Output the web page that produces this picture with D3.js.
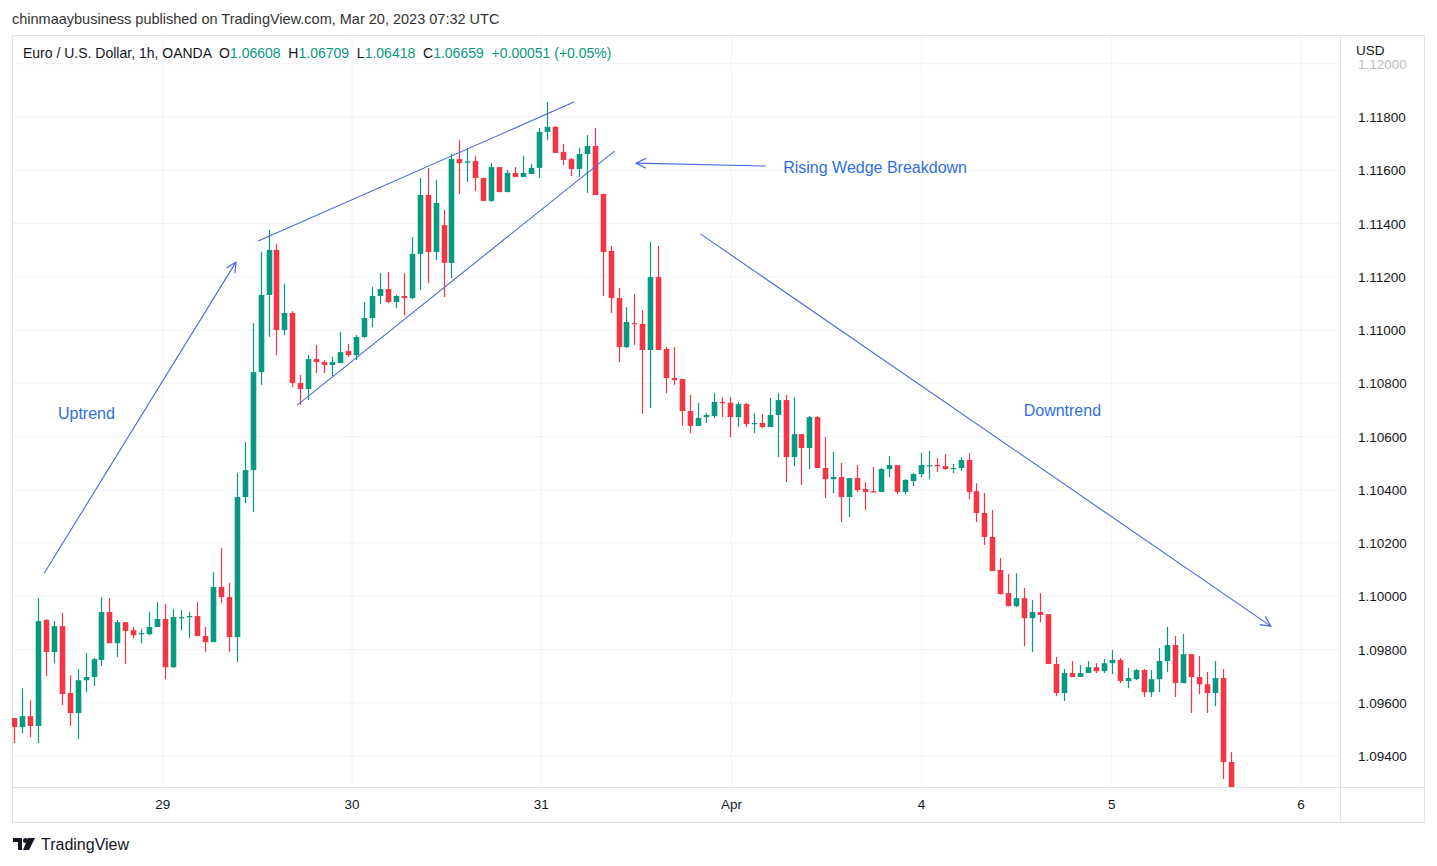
<!DOCTYPE html>
<html>
<head>
<meta charset="utf-8">
<script src="https://cdn.jsdelivr.net/npm/d3@7"></script>
<style>
  body { margin: 0; background: #fff; font-family: "Liberation Sans", Arial, sans-serif; }
  svg { display: block; }
  text { white-space: pre; }
</style>
</head>
<body>
<svg id="chart" width="1437" height="866"></svg>
<script>
// hourly candles, EURUSD [open, high, low, close]
const opens = [1.09543,1.09509,1.09550,1.09513,1.09911,1.09791,1.09888,1.09637,1.09562,1.09685,1.09697,1.09761,1.09941,1.09824,1.09903,1.09873,1.09858,1.09858,1.09885,1.09915,
  1.09734,1.09918,1.09922,1.09926,1.09851,1.09828,1.10035,1.09997,1.09847,1.10373,1.10474,1.10842,1.11132,1.11301,1.11000,1.11064,1.10801,1.10779,1.10891,1.10880,
  1.10869,1.10876,1.10921,1.10906,1.10974,1.11045,1.11128,1.11154,1.11105,1.11128,1.11120,1.11286,1.11507,1.11293,1.11394,1.11252,1.11642,1.11631,1.11635,1.11571,
  1.11485,1.11612,1.11518,1.11590,1.11575,1.11586,1.11609,1.11744,1.11763,1.11669,1.11642,1.11605,1.11661,1.11691,1.11511,1.11297,1.11120,1.10936,1.11026,1.11023,
  1.10925,1.11199,1.10929,1.10820,1.10816,1.10696,1.10640,1.10673,1.10677,1.10730,1.10727,1.10673,1.10722,1.10647,1.10651,1.10636,1.10681,1.10737,1.10523,1.10609,
  1.10557,1.10673,1.10482,1.10440,1.10448,1.10373,1.10444,1.10403,1.10395,1.10392,1.10478,1.10493,1.10392,1.10433,1.10459,1.10489,1.10493,1.10489,1.10478,1.10482,
  1.10512,1.10395,1.10313,1.10223,1.10099,1.10012,1.09963,1.09993,1.09918,1.09941,1.09933,1.09746,1.09637,1.09712,1.09697,1.09712,1.09734,1.09719,1.09749,1.09761,
  1.09682,1.09689,1.09723,1.09640,1.09689,1.09757,1.09817,1.09674,1.09783,1.09697,1.09670,1.09637,1.09693,1.09378];
const highs = [1.09543,1.09655,1.09610,1.09993,1.09915,1.09907,1.09937,1.09704,1.09727,1.09787,1.09768,1.09997,1.09993,1.09911,1.09903,1.09885,1.09877,1.09941,1.09978,1.09971,
  1.09952,1.09948,1.09941,1.09978,1.09885,1.10091,1.10181,1.10050,1.10463,1.10579,1.11026,1.11293,1.11376,1.11323,1.11173,1.11071,1.10831,1.10906,1.10944,1.10887,
  1.10899,1.10993,1.10948,1.10981,1.11105,1.11162,1.11214,1.11218,1.11132,1.11214,1.11349,1.11571,1.11609,1.11564,1.11451,1.11661,1.11714,1.11684,1.11654,1.11571,
  1.11627,1.11612,1.11601,1.11612,1.11654,1.11624,1.11759,1.11856,1.11766,1.11699,1.11646,1.11684,1.11732,1.11759,1.11511,1.11316,1.11158,1.11086,1.11135,1.11075,
  1.11331,1.11316,1.10936,1.10936,1.10816,1.10756,1.10726,1.10688,1.10763,1.10748,1.10748,1.10730,1.10726,1.10688,1.10685,1.10745,1.10763,1.10756,1.10748,1.10609,
  1.10677,1.10677,1.10598,1.10542,1.10501,1.10444,1.10493,1.10429,1.10486,1.10482,1.10527,1.10493,1.10440,1.10463,1.10538,1.10546,1.10519,1.10534,1.10497,1.10523,
  1.10538,1.10425,1.10388,1.10324,1.10144,1.10084,1.10087,1.10031,1.09986,1.10012,1.09933,1.09772,1.09727,1.09757,1.09742,1.09757,1.09749,1.09764,1.09798,1.09768,
  1.09731,1.09727,1.09727,1.09723,1.09806,1.09885,1.09851,1.09858,1.09783,1.09776,1.09716,1.09757,1.09727,1.09415];
const lows = [1.09449,1.09486,1.09471,1.09449,1.09700,1.09749,1.09592,1.09513,1.09464,1.09640,1.09663,1.09738,1.09824,1.09772,1.09746,1.09843,1.09824,1.09854,1.09885,1.09689,
  1.09731,1.09873,1.09843,1.09851,1.09791,1.09828,1.09975,1.09791,1.09753,1.10350,1.10317,1.10794,1.10974,1.10906,1.10981,1.10786,1.10718,1.10737,1.10839,1.10839,
  1.10827,1.10876,1.10899,1.10887,1.10970,1.11011,1.11098,1.11101,1.11083,1.11056,1.11117,1.11150,1.11177,1.11263,1.11124,1.11195,1.11511,1.11556,1.11522,1.11485,
  1.11481,1.11518,1.11518,1.11575,1.11575,1.11586,1.11571,1.11714,1.11665,1.11620,1.11578,1.11575,1.11515,1.11507,1.11128,1.11064,1.10880,1.10932,1.10944,1.10685,
  1.10707,1.10925,1.10763,1.10794,1.10640,1.10613,1.10640,1.10651,1.10670,1.10673,1.10598,1.10636,1.10636,1.10613,1.10632,1.10636,1.10523,1.10429,1.10489,1.10418,
  1.10478,1.10482,1.10369,1.10388,1.10279,1.10298,1.10392,1.10324,1.10390,1.10392,1.10448,1.10384,1.10384,1.10414,1.10448,1.10440,1.10467,1.10474,1.10463,1.10471,
  1.10365,1.10279,1.10193,1.10095,1.10008,1.09963,1.09960,1.09813,1.09791,1.09903,1.09746,1.09625,1.09607,1.09697,1.09697,1.09712,1.09712,1.09712,1.09708,1.09674,
  1.09655,1.09685,1.09622,1.09622,1.09640,1.09716,1.09622,1.09674,1.09562,1.09633,1.09562,1.09588,1.09314,1.09284];
const closes = [1.09509,1.09550,1.09513,1.09907,1.09791,1.09888,1.09633,1.09562,1.09685,1.09697,1.09764,1.09941,1.09824,1.09903,1.09870,1.09854,1.09862,1.09885,1.09915,1.09734,
  1.09922,1.09922,1.09926,1.09851,1.09828,1.10035,1.09997,1.09847,1.10373,1.10474,1.10842,1.11132,1.11301,1.11000,1.11064,1.10801,1.10779,1.10891,1.10880,1.10869,
  1.10880,1.10917,1.10906,1.10974,1.11045,1.11128,1.11154,1.11105,1.11128,1.11120,1.11286,1.11507,1.11293,1.11477,1.11252,1.11642,1.11627,1.11633,1.11571,1.11485,
  1.11612,1.11518,1.11590,1.11575,1.11590,1.11609,1.11744,1.11763,1.11665,1.11639,1.11605,1.11661,1.11691,1.11507,1.11293,1.11120,1.10936,1.11030,1.11023,1.10925,
  1.11199,1.10925,1.10820,1.10812,1.10696,1.10640,1.10670,1.10681,1.10730,1.10727,1.10673,1.10722,1.10647,1.10651,1.10636,1.10681,1.10737,1.10523,1.10609,1.10557,
  1.10673,1.10482,1.10440,1.10448,1.10373,1.10444,1.10399,1.10392,1.10390,1.10478,1.10493,1.10392,1.10437,1.10459,1.10493,1.10493,1.10489,1.10478,1.10482,1.10512,
  1.10392,1.10313,1.10223,1.10095,1.10008,1.09963,1.09993,1.09918,1.09941,1.09930,1.09746,1.09637,1.09712,1.09697,1.09712,1.09734,1.09719,1.09749,1.09761,1.09682,
  1.09693,1.09723,1.09640,1.09689,1.09757,1.09817,1.09674,1.09783,1.09697,1.09670,1.09637,1.09693,1.09378,1.09284];

// day labels and where they fall, in candle positions
const dayLabels = ["29", "30", "31", "Apr", "4", "5", "6"];
const dayPositions = [18.7, 42.5, 66.3, 90.2, 114.1, 138, 161.8];
const priceTicks = [1.094, 1.096, 1.098, 1.100, 1.102, 1.104, 1.106, 1.108, 1.110, 1.112, 1.114, 1.116, 1.118, 1.120];

// drawn annotations [candle position, price]
const trendLines = [
  { from: [3.8, 1.10087], to: [27.9, 1.11255], arrow: true },
  { from: [30.7, 1.11334], to: [70.4, 1.11856], arrow: false },
  { from: [35.6, 1.10718], to: [75.5, 1.11672], arrow: false },
  { from: [94.5, 1.11616], to: [78.2, 1.11627], arrow: true },
  { from: [86.3, 1.11361], to: [158, 1.09888], arrow: true }
];
const noteTexts = [
  { text: "Uptrend", at: [9.1, 1.10688], anchor: "middle" },
  { text: "Rising Wedge Breakdown", at: [96.7, 1.11614], anchor: "start" },
  { text: "Downtrend", at: [131.8, 1.10700], anchor: "middle" }
];

const up = "#089981", down = "#f23645", ink = "#4a6ad8", noteInk = "#2f6fe0";

let svg = d3.select("#chart");
let plot = { left: 12, right: 1340, top: 35, bottom: 787 };
let frameRight = 1424, frameBottom = 822;

let xScale = d3.scaleLinear().domain([0, 153]).range([14, 1231]);
let yScale = d3.scaleLinear().domain([1.09284, 1.12108]).range([plot.bottom, plot.top]);

svg.append("text").attr("x", 12).attr("y", 24)
  .attr("font-size", 14.5).attr("fill", "#333")
  .text("chinmaaybusiness published on TradingView.com, Mar 20, 2023 07:32 UTC");

svg.append("defs").append("clipPath").attr("id", "plotclip")
  .append("rect").attr("x", plot.left).attr("y", plot.top)
  .attr("width", plot.right - plot.left).attr("height", plot.bottom - plot.top);

// grid
let grid = svg.append("g");
grid.selectAll(".hg").data(priceTicks).enter().append("line")
  .attr("x1", plot.left).attr("x2", plot.right)
  .attr("y1", d => yScale(d)).attr("y2", d => yScale(d))
  .attr("stroke", "#f0f3fa").attr("stroke-width", 1);
grid.selectAll(".vg").data(dayPositions).enter().append("line")
  .attr("x1", d => xScale(d)).attr("x2", d => xScale(d))
  .attr("y1", plot.top).attr("y2", plot.bottom)
  .attr("stroke", "#f0f3fa").attr("stroke-width", 1);

// frame
let frame = svg.append("g").attr("fill", "none").attr("stroke", "#e0e3eb");
frame.append("rect").attr("x", plot.left + 0.5).attr("y", plot.top + 0.5)
  .attr("width", frameRight - plot.left).attr("height", frameBottom - plot.top);
frame.append("line").attr("x1", plot.left).attr("x2", frameRight)
  .attr("y1", plot.bottom + 0.5).attr("y2", plot.bottom + 0.5);
frame.append("line").attr("x1", plot.right + 0.5).attr("x2", plot.right + 0.5)
  .attr("y1", plot.top).attr("y2", frameBottom);

// candles
let candles = opens.map((o, i) => ({ i: i, o: o, h: highs[i], l: lows[i], c: closes[i] }));
let candleGroup = svg.append("g").attr("clip-path", "url(#plotclip)");
let bodyWidth = 5.6;

candleGroup.selectAll(".wick").data(candles).enter().append("line")
  .attr("x1", d => Math.round(xScale(d.i)) + 0.5).attr("x2", d => Math.round(xScale(d.i)) + 0.5)
  .attr("y1", d => yScale(d.h)).attr("y2", d => yScale(d.l))
  .attr("stroke", d => d.c >= d.o ? up : down).attr("stroke-width", 1.2);

candleGroup.selectAll(".body").data(candles).enter().append("rect")
  .attr("x", d => Math.round(xScale(d.i)) + 0.5 - bodyWidth / 2)
  .attr("y", d => yScale(Math.max(d.o, d.c)))
  .attr("width", bodyWidth)
  .attr("height", d => Math.max(1.2, Math.abs(yScale(d.o) - yScale(d.c))))
  .attr("fill", d => d.c >= d.o ? up : down);

// annotations
let marker = svg.select("defs").append("marker").attr("id", "arrow")
  .attr("viewBox", "0 0 12 12").attr("refX", 11).attr("refY", 6)
  .attr("markerWidth", 12).attr("markerHeight", 12).attr("markerUnits", "userSpaceOnUse")
  .attr("orient", "auto");
marker.append("path").attr("d", "M1,1 L11,6 L1,11").attr("fill", "none")
  .attr("stroke", ink).attr("stroke-width", 1.2);

svg.append("g").selectAll("line").data(trendLines).enter().append("line")
  .attr("x1", d => xScale(d.from[0])).attr("y1", d => yScale(d.from[1]))
  .attr("x2", d => xScale(d.to[0])).attr("y2", d => yScale(d.to[1]))
  .attr("stroke", ink).attr("stroke-width", 1.1)
  .attr("marker-end", d => d.arrow ? "url(#arrow)" : null);

svg.append("g").selectAll("text").data(noteTexts).enter().append("text")
  .attr("x", d => xScale(d.at[0])).attr("y", d => yScale(d.at[1]) + 6)
  .attr("text-anchor", d => d.anchor)
  .attr("font-size", 16).attr("fill", noteInk)
  .text(d => d.text);

// price axis
let priceAxis = svg.append("g").attr("font-size", 13.5).attr("fill", "#131722");
priceAxis.selectAll("text").data(priceTicks).enter().append("text")
  .attr("x", 1358).attr("y", d => yScale(d) + 5)
  .attr("opacity", d => d > 1.119 ? 0.3 : 1)
  .text(d => d3.format(".5f")(d));
svg.append("rect").attr("x", 1350).attr("y", 40).attr("width", 60).attr("height", 20).attr("fill", "#fff");
svg.append("text").attr("x", 1356).attr("y", 55).attr("font-size", 13.5).attr("fill", "#131722").text("USD");

// time axis
svg.append("g").selectAll("text").data(dayLabels).enter().append("text")
  .attr("x", (d, k) => xScale(dayPositions[k])).attr("y", 809)
  .attr("text-anchor", "middle").attr("font-size", 13.5).attr("fill", "#131722")
  .text(d => d);

// header legend
let legend = svg.append("text").attr("x", 23).attr("y", 58).attr("font-size", 14).attr("fill", "#131722")
  .attr("xml:space", "preserve");
legend.append("tspan").text("Euro / U.S. Dollar, 1h, OANDA  O");
legend.append("tspan").attr("fill", up).text("1.06608");
legend.append("tspan").text("  H");
legend.append("tspan").attr("fill", up).text("1.06709");
legend.append("tspan").text("  L");
legend.append("tspan").attr("fill", up).text("1.06418");
legend.append("tspan").text("  C");
legend.append("tspan").attr("fill", up).text("1.06659  +0.00051 (+0.05%)");

// logo
let logo = svg.append("g").attr("transform", "translate(13,838)");
logo.append("path").attr("d", "M0,0 H9 V12 H5 V4 H0 Z").attr("fill", "#131722");
logo.append("circle").attr("cx", 12.5).attr("cy", 2.5).attr("r", 2.5).attr("fill", "#131722");
logo.append("path").attr("d", "M15,0 H22 L16,12 H10 Z").attr("fill", "#131722");
svg.append("text").attr("x", 41).attr("y", 850).attr("font-size", 16).attr("fill", "#131722").text("TradingView");
</script>
</body>
</html>
